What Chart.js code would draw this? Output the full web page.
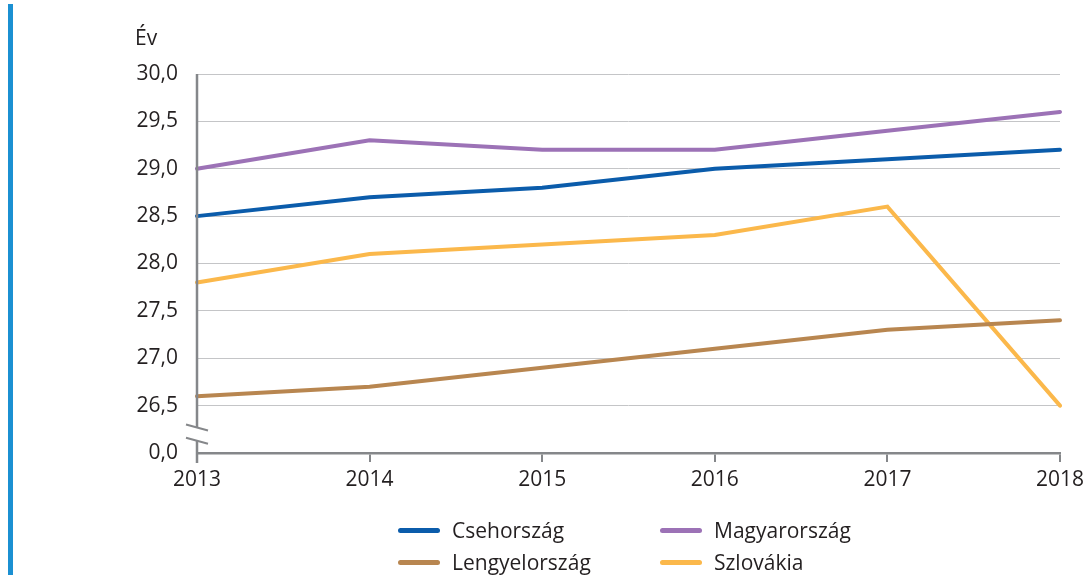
<!DOCTYPE html>
<html>
<head>
<meta charset="utf-8">
<script src="https://cdn.jsdelivr.net/npm/chart.js@4"></script>
<style>
  body { margin: 0; background: #fff; }
  #wrap { position: relative; width: 1086px; height: 575px; font-family: "Open Sans", sans-serif; color: #231f20; }
  #bar { position: absolute; left: 8px; top: 4px; width: 5px; height: 571px; background: #1b90d2; }
  #unit { position: absolute; left: 135px; top: 23px; font-size: 21px; }
  #legend { position: absolute; left: 398px; top: 516px; display: grid; grid-template-columns: 262px 250px; row-gap: 4px; font-size: 21px; }
  .item { display: flex; align-items: center; height: 28px; }
  .swatch { width: 42px; height: 5px; border-radius: 3px; margin-right: 12px; }
</style>
</head>
<body>
<div id="wrap">
  <canvas id="myChart" width="1086" height="575"></canvas>
  <div id="bar"></div>
  <div id="unit">Év</div>
  <div id="legend"></div>
</div>
<script>
// Years on the x axis
var years = ['2013', '2014', '2015', '2016', '2017', '2018'];

// Average age (years), per country
var csehorszag = [28.5, 28.7, 28.8, 29.0, 29.1, 29.2];
var magyarorszag = [29.0, 29.3, 29.2, 29.2, 29.4, 29.6];
var lengyelorszag = [26.6, 26.7, 26.9, 27.1, 27.3, 27.4];
var szlovakia = [27.8, 28.1, 28.2, 28.3, 28.6, 26.5];

// y axis: the bottom tick (26,0) stands for 0,0 after the break
var yTicks = [26.0, 26.5, 27.0, 27.5, 28.0, 28.5, 29.0, 29.5, 30.0];
var yTickLabels = ['0,0', '26,5', '27,0', '27,5', '28,0', '28,5', '29,0', '29,5', '30,0'];

var series = [
    { label: 'Csehország', data: csehorszag, color: '#0b5cab' },
    { label: 'Magyarország', data: magyarorszag, color: '#9c72b6' },
    { label: 'Lengyelország', data: lengyelorszag, color: '#b88650' },
    { label: 'Szlovákia', data: szlovakia, color: '#fbb84b' }
];

// legend in two columns, like the original
var legend = document.getElementById('legend');
series.forEach(function(s) {
    var el = document.createElement('div');
    el.className = 'item';
    el.innerHTML = '<span class="swatch" style="background:' + s.color + '"></span>' + s.label;
    legend.appendChild(el);
});

// draws the y axis line with a break between 0,0 and 26,5
var axisBreak = {
    id: 'axisBreak',
    afterDraw: function(chart) {
        var c = chart.ctx;
        var y = chart.scales.y;
        var x = chart.chartArea.left;
        var yBreakTop = y.getPixelForValue(26.27);
        var yBreakBot = y.getPixelForValue(26.13);
        c.save();
        c.strokeStyle = '#85878a';
        c.lineWidth = 2.5;
        c.beginPath();
        c.moveTo(x, chart.chartArea.top);
        c.lineTo(x, yBreakTop);
        c.moveTo(x, yBreakBot);
        c.lineTo(x, chart.chartArea.bottom + 10);
        c.stroke();
        c.lineWidth = 2;
        c.beginPath();
        c.moveTo(x - 11, yBreakTop - 3);
        c.lineTo(x + 11, yBreakTop + 3);
        c.moveTo(x - 11, yBreakBot - 3);
        c.lineTo(x + 11, yBreakBot + 3);
        c.stroke();
        c.restore();
    }
};

var ctx = document.getElementById('myChart').getContext('2d');
var myChart = new Chart(ctx, {
    type: 'line',
    data: {
        labels: years,
        datasets: series.map(function(s) {
            return {
                label: s.label,
                data: s.data,
                borderColor: s.color,
                backgroundColor: s.color,
                borderWidth: 4,
                pointRadius: 0,
                tension: 0,
                borderCapStyle: 'round'
            };
        })
    },
    options: {
        responsive: false,
        animation: false,
        layout: { padding: { top: 74, right: 0, bottom: 0, left: 0 } },
        plugins: { legend: { display: false }, tooltip: { enabled: false } },
        scales: {
            x: {
                offset: false,
                grid: { drawOnChartArea: false, color: '#85878a', lineWidth: 2, tickLength: 9 },
                border: { color: '#85878a', width: 2.5 },
                ticks: { color: '#231f20', font: { family: 'Open Sans', size: 21 }, padding: 5, maxRotation: 0 },
                afterFit: function(scale) {
                    scale.height = 122;
                    scale.paddingRight = 26;
                }
            },
            y: {
                min: 26,
                max: 30,
                afterBuildTicks: function(scale) {
                    scale.ticks = yTicks.map(function(v) { return { value: v }; });
                },
                grid: { color: '#c4c5c7', lineWidth: 1, drawTicks: false },
                border: { display: false },
                ticks: {
                    color: '#231f20',
                    font: { family: 'Open Sans', size: 21 },
                    padding: 19,
                    callback: function(value) {
                        var i = yTicks.indexOf(value);
                        return i >= 0 ? yTickLabels[i] : '';
                    }
                },
                afterFit: function(scale) { scale.width = 197; }
            }
        }
    },
    plugins: [axisBreak]
});
</script>
</body>
</html>
